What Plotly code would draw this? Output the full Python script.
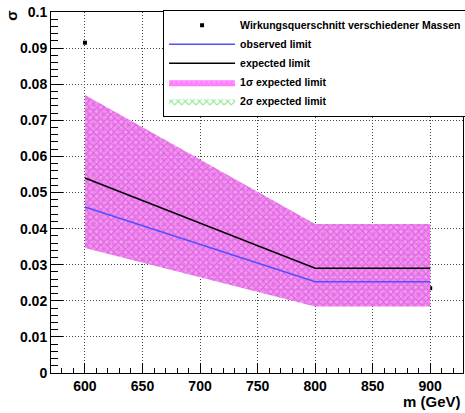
import plotly.graph_objects as go

masses = [600, 800, 900]
xsec_points = [0.0915, 0.038, 0.0235]
expected = [0.054, 0.029, 0.029]
observed = [0.046, 0.0253, 0.0253]
one_sigma_up = [0.077, 0.0413, 0.0413]
one_sigma_dn = [0.0346, 0.0184, 0.0184]
two_sigma_up = [0.077, 0.0413, 0.0413]
two_sigma_dn = [0.0346, 0.0184, 0.0184]

x_ticks = [600, 650, 700, 750, 800, 850, 900]
y_ticks = [0, 0.01, 0.02, 0.03, 0.04, 0.05, 0.06, 0.07, 0.08, 0.09, 0.1]
y_tick_labels = ["0", "0.01", "0.02", "0.03", "0.04", "0.05", "0.06", "0.07", "0.08", "0.09", "0.1"]

FONT = "Liberation Sans"

fig = go.Figure()

fig.add_trace(go.Scatter(
    x=masses, y=xsec_points, mode="markers",
    marker=dict(symbol="square", size=4, color="black"),
    name="<b>Wirkungsquerschnitt verschiedener Massen</b>", legendrank=1,
))

# 2 sigma band (drawn first, underneath)
fig.add_trace(go.Scatter(
    x=masses + masses[::-1], y=two_sigma_up + two_sigma_dn[::-1],
    mode="lines", fill="toself", line=dict(width=0, color="rgba(0,0,0,0)"),
    fillcolor="rgba(0,0,0,0)",
    fillpattern=dict(shape="x", fgcolor="#33cc33", bgcolor="white", size=5, solidity=0.4),
    name="<b>2σ expected limit</b>", legendrank=5,
))
# 1 sigma band
fig.add_trace(go.Scatter(
    x=masses + masses[::-1], y=one_sigma_up + one_sigma_dn[::-1],
    mode="lines", fill="toself", line=dict(width=0, color="rgba(0,0,0,0)"),
    fillcolor="rgba(0,0,0,0)",
    fillpattern=dict(shape="+", fgcolor="#ff00ff", bgcolor="rgba(0,0,0,0)", size=5, solidity=0.95),
    name="<b>1σ expected limit</b>", legendrank=4,
))

fig.add_trace(go.Scatter(
    x=masses, y=observed, mode="lines",
    line=dict(color="#5050ff", width=1.5),
    name="<b>observed limit</b>", legendrank=2,
))
fig.add_trace(go.Scatter(
    x=masses, y=expected, mode="lines",
    line=dict(color="black", width=1.5),
    name="<b>expected limit</b>", legendrank=3,
))

axis_common = dict(
    showline=True, linecolor="black", linewidth=1, mirror=True,
    ticks="inside", tickcolor="black", zeroline=False,
    showgrid=True, gridcolor="#444444", griddash="1px,2px", gridwidth=1,
    tickfont=dict(family=FONT, size=14, color="black", weight="bold"),
)

fig.update_xaxes(
    range=[570.5, 928.5], tickvals=x_ticks, ticklen=10,
    minor=dict(dtick=10, ticklen=5, ticks="inside", tickcolor="black", showgrid=False),
    **axis_common,
)
fig.update_yaxes(
    range=[0, 0.1], tickvals=y_ticks, ticktext=y_tick_labels, ticklen=12,
    minor=dict(dtick=0.002, ticklen=7, ticks="inside", tickcolor="black", showgrid=False),
    **axis_common,
)

fig.update_layout(
    width=465, height=413,
    margin=dict(l=51, r=2, t=12, b=40, autoexpand=False),
    paper_bgcolor="white", plot_bgcolor="white",
    font=dict(family=FONT, color="black"),
    legend=dict(
        x=0.272, y=1.006, xanchor="left", yanchor="top",
        bgcolor="white", bordercolor="black", borderwidth=1,
        font=dict(family=FONT, size=10.5, color="black"),
        itemwidth=66, tracegroupgap=0,
        traceorder="normal",
    ),
    showlegend=True,
    annotations=[
        dict(text="<b>σ</b>", x=-0.095, y=0.989, xref="paper", yref="paper",
             xanchor="center", yanchor="middle",
             showarrow=False, textangle=-90, font=dict(family=FONT, size=15)),
        dict(text="<b>m (GeV)</b>", x=1.0, y=-0.078, xref="paper", yref="paper",
             xanchor="right", yanchor="middle", showarrow=False, font=dict(family=FONT, size=15)),
    ],
)

fig.write_html("out.html")
